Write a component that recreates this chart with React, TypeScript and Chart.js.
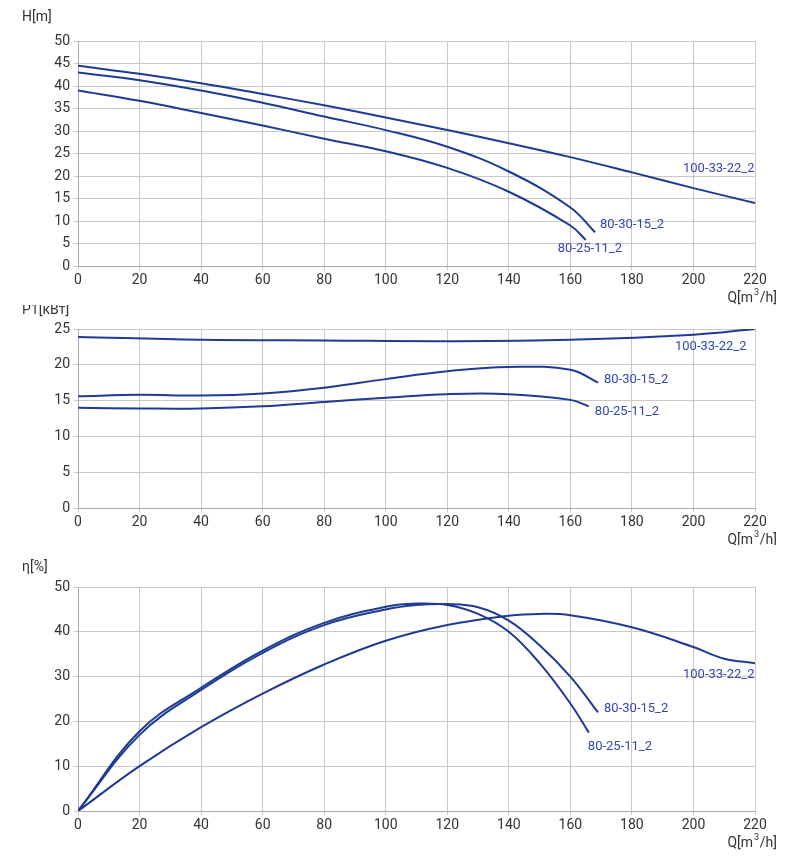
import React, { useEffect, useRef } from "react";
import { Chart, registerables } from "chart.js";
Chart.register(...registerables);

const seriesNames = ["100-33-22_2", "80-30-15_2", "80-25-11_2"];

const headQ1 = [0, 20, 40, 60, 80, 100, 120, 140, 160, 180, 200, 220];
const headV1 = [44.5, 42.7, 40.6, 38.2, 35.7, 33, 30.2, 27.3, 24.2, 20.8, 17.3, 14];
const headQ2 = [0, 20, 40, 60, 80, 100, 120, 140, 160, 168];
const headV2 = [43, 41.3, 39, 36.3, 33.2, 30.2, 26.5, 21, 13, 7.5];
const headQ3 = [0, 20, 40, 60, 80, 100, 120, 140, 160, 165];
const headV3 = [39, 36.7, 34, 31.2, 28.3, 25.5, 21.8, 16.5, 9, 5.8];

const powQ1 = [0, 40, 80, 120, 160, 200, 220];
const powV1 = [23.9, 23.5, 23.4, 23.3, 23.5, 24.2, 25];
const powQ2 = [0, 20, 40, 60, 80, 100, 120, 140, 160, 169];
const powV2 = [15.6, 15.8, 15.7, 16, 16.8, 18, 19.1, 19.7, 19.3, 17.5];
const powQ3 = [0, 20, 40, 60, 80, 100, 120, 140, 160, 166];
const powV3 = [14, 13.9, 13.9, 14.2, 14.8, 15.4, 15.9, 15.9, 15.1, 14.2];

const effQ1 = [0, 20, 40, 60, 80, 100, 120, 140, 150, 160, 180, 200, 210, 220];
const effV1 = [0, 10, 18.7, 26.2, 32.7, 38, 41.5, 43.6, 44, 43.7, 41, 36.6, 34, 33];
const effQ2 = [0, 20, 40, 60, 80, 100, 110, 120, 130, 140, 150, 160, 169];
const effV2 = [0, 17, 27, 35.3, 41.5, 45, 46, 46.2, 45.5, 42.5, 37, 30, 22];
const effQ3 = [0, 20, 40, 60, 80, 100, 110, 120, 130, 140, 150, 160, 166];
const effV3 = [0, 17.8, 27.5, 35.8, 42, 45.6, 46.3, 46, 44, 40, 33, 24, 17.5];

const xTicks = [0, 20, 40, 60, 80, 100, 120, 140, 160, 180, 200, 220];

const pts = (q: number[], v: number[]) => q.map((x, i) => ({ x, y: v[i] }));
const LINE = "#1f3a93";
const LABEL = "#3447b0";
const FONT = "Roboto";

type Cfg = {
  height: number; top: number; bottom: number; yMax: number; yStep: number; yTitle: string; titleDy: number;
  data: { x: number; y: number }[][]; offsets: [number, number][];
};

function PumpChart({ cfg }: { cfg: Cfg }) {
  const ref = useRef<HTMLCanvasElement>(null);
  useEffect(() => {
    const labelPlugin = {
      id: "labels",
      afterDraw(chart: any) {
        const { ctx, chartArea, scales } = chart;
        ctx.save();
        ctx.font = `13px ${FONT}`;
        ctx.fillStyle = LABEL;
        ctx.textBaseline = "middle";
        ctx.textAlign = "left";
        cfg.data.forEach((d, i) => {
          const last = d[d.length - 1];
          const px = scales.x.getPixelForValue(last.x) + cfg.offsets[i][0];
          const py = scales.y.getPixelForValue(last.y) + cfg.offsets[i][1];
          ctx.fillText(seriesNames[i], px, py);
        });
        ctx.fillStyle = "#333";
        ctx.font = `14px ${FONT}`;
        ctx.textAlign = "left";
        ctx.fillText(cfg.yTitle, chartArea.left - 56, chartArea.top - cfg.titleDy);
        ctx.textAlign = "right";
        const qy = chartArea.bottom + 32;
        ctx.fillText("Q[m", 753, qy);
        ctx.font = `9px ${FONT}`;
        ctx.fillText("3", 759, qy - 5);
        ctx.font = `14px ${FONT}`;
        ctx.fillText("/h]", 777, qy);
        ctx.restore();
      },
    };
    const chart = new Chart(ref.current!, {
      type: "line",
      data: {
        datasets: cfg.data.map((d) => ({
          data: d, borderColor: LINE, borderWidth: 2, pointRadius: 0,
          tension: 0.4, fill: false,
        })),
      },
      options: {
        animation: false, responsive: false, maintainAspectRatio: false,
        layout: { padding: { top: cfg.top, right: 30, bottom: 0, left: 0 } },
        plugins: { legend: { display: false }, tooltip: { enabled: false } },
        scales: {
          x: {
            type: "linear", min: 0, max: 220,
            afterBuildTicks: (s: any) => { s.ticks = xTicks.map((v) => ({ value: v })); },
            afterFit: (s: any) => { s.height = cfg.bottom; },
            ticks: { color: "#333", font: { family: FONT, size: 14 }, padding: 2 },
            grid: { color: "#c8c8c8", tickLength: 4 },
            border: { color: "#aaa" },
          },
          y: {
            min: 0, max: cfg.yMax,
            afterFit: (s: any) => { s.width = 78; },
            ticks: { stepSize: cfg.yStep, color: "#333", font: { family: FONT, size: 14 }, padding: 4 },
            grid: { color: "#c8c8c8", tickLength: 4 },
            border: { color: "#aaa" },
          },
        },
      },
      plugins: [labelPlugin],
    });
    return () => chart.destroy();
  }, []);
  return (
    <div style={{ width: 785, height: cfg.height }}>
      <canvas ref={ref} width={785} height={cfg.height} style={{ display: "block" }} />
    </div>
  );
}

const charts: Cfg[] = [
  { height: 305, top: 41, bottom: 39, yMax: 50, yStep: 5, yTitle: "H[m]", titleDy: 24,
    data: [pts(headQ1, headV1), pts(headQ2, headV2), pts(headQ3, headV3)],
    offsets: [[-72, -34], [5, -8], [-28, 9]] },
  { height: 240, top: 24, bottom: 37, yMax: 25, yStep: 5, yTitle: "P1[кВт]", titleDy: 19,
    data: [pts(powQ1, powV1), pts(powQ2, powV2), pts(powQ3, powV3)],
    offsets: [[-80, 18], [6, -3], [6, 5]] },
  { height: 320, top: 42, bottom: 54, yMax: 50, yStep: 10, yTitle: "η[%]", titleDy: 20,
    data: [pts(effQ1, effV1), pts(effQ2, effV2), pts(effQ3, effV3)],
    offsets: [[-72, 12], [6, -4], [-1, 14]] },
];

export default function App() {
  useEffect(() => { document.body.style.margin = "0"; document.body.style.background = "#fff"; }, []);
  return (
    <div style={{ width: 785, fontFamily: FONT }}>
      {charts.map((c, i) => <PumpChart key={i} cfg={c} />)}
    </div>
  );
}
